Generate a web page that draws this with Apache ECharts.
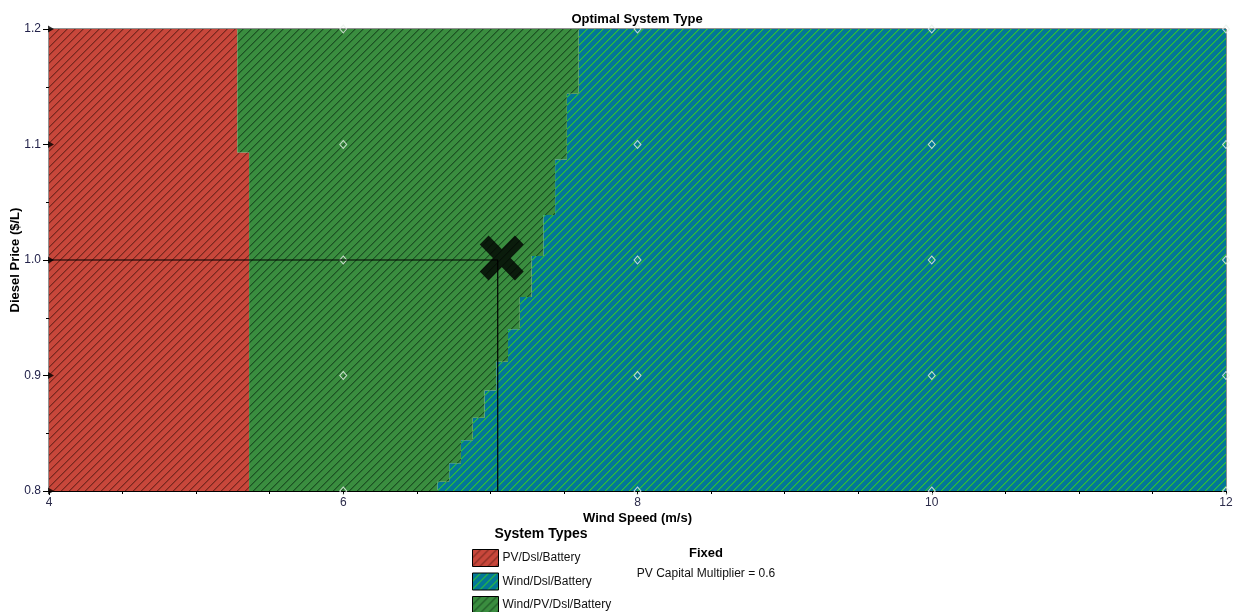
<!DOCTYPE html>
<html>
<head>
<meta charset="utf-8">
<script src="https://cdn.jsdelivr.net/npm/echarts@6/dist/echarts.min.js"></script>
<style>
  html, body { margin: 0; padding: 0; background: #fff; }
  #chart { width: 1243px; height: 612px; }
</style>
</head>
<body>
<div id="chart"></div>
<script>
// System type names (legend order)
const systemTypes = ['PV/Dsl/Battery', 'Wind/Dsl/Battery', 'Wind/PV/Dsl/Battery'];

// Boundary between PV/Dsl/Battery (left) and Wind/PV/Dsl/Battery: step edges
const pvBoundaryDiesel = [1.2, 1.093, 0.8];      // diesel price band edges ($/L)
const pvBoundaryWind = [5.28, 5.36];              // wind speed of the boundary in each band

// Boundary between Wind/PV/Dsl/Battery and Wind/Dsl/Battery (right): step edges
const windBoundaryDiesel = [1.2, 1.144, 1.087, 1.039, 1.0035, 0.968, 0.940, 0.912, 0.887, 0.8635, 0.844, 0.824, 0.808, 0.8];
const windBoundaryWind = [7.60, 7.52, 7.44, 7.36, 7.28, 7.20, 7.12, 7.04, 6.96, 6.88, 6.80, 6.72, 6.64];

// Sensitivity grid points
const sensWind = [4, 6, 8, 10, 12];
const sensDiesel = [0.8, 0.9, 1.0, 1.1, 1.2];

// Current operating point
const currentWind = 7.05;
const currentDiesel = 1.0;

// Axis extents
const windMin = 4, windMax = 12;
const dieselMin = 0.8, dieselMax = 1.2;

const FONT = "'Liberation Sans', Arial, sans-serif";

// Diagonal hatch pattern tile
function hatch(bg, line) {
  const s = 8;
  const c = document.createElement('canvas');
  c.width = s; c.height = s;
  const g = c.getContext('2d');
  g.fillStyle = bg;
  g.fillRect(0, 0, s, s);
  g.fillStyle = line;
  for (let i = 0; i < s; i++) {
    g.globalAlpha = 1;
    g.fillRect(i, s - 1 - i, 1, 1);
    g.globalAlpha = 0.5;
    g.fillRect((i + 1) % s, s - 1 - i, 1, 1);
  }
  g.globalAlpha = 1;
  return { image: c, repeat: 'repeat' };
}

const patterns = {
  'PV/Dsl/Battery': hatch('#c8473b', '#7a281f'),
  'Wind/Dsl/Battery': hatch('#037797', '#2ec235'),
  'Wind/PV/Dsl/Battery': hatch('#3a8d3f', '#1c5223')
};

// Staircase outline from top to bottom
function stair(xs, ys) {
  const pts = [];
  for (let i = 0; i < xs.length; i++) {
    pts.push([xs[i], ys[i]]);
    pts.push([xs[i], ys[i + 1]]);
  }
  return pts;
}

const pvEdge = stair(pvBoundaryWind, pvBoundaryDiesel);
const windEdge = stair(windBoundaryWind, windBoundaryDiesel);

const regions = {
  'PV/Dsl/Battery': [[windMin, dieselMax]].concat(pvEdge, [[windMin, dieselMin]]),
  'Wind/PV/Dsl/Battery': pvEdge.concat(windEdge.slice().reverse()),
  'Wind/Dsl/Battery': windEdge.concat([[windMax, dieselMin], [windMax, dieselMax]])
};

function regionSeries(name) {
  return {
    type: 'custom',
    name: name,
    coordinateSystem: 'cartesian2d',
    data: [[windMin, dieselMin]],
    itemStyle: { color: patterns[name], borderColor: '#000', borderWidth: 1 },
    clip: true,
    z: 1,
    silent: true,
    renderItem: function (params, api) {
      const pts = regions[name].map(p => api.coord(p));
      return {
        type: 'polygon',
        shape: { points: pts },
        style: { fill: patterns[name], stroke: null }
      };
    }
  };
}

const diamondPts = [];
const trianglePts = [];
sensWind.forEach(w => sensDiesel.forEach(d => {
  if (w === windMin) trianglePts.push([w, d]); else diamondPts.push([w, d]);
}));

const chart = echarts.init(document.getElementById('chart'), null, { renderer: 'canvas' });

chart.setOption({
  animation: false,
  backgroundColor: '#fff',
  textStyle: { fontFamily: FONT },
  grid: {
    left: 49, right: 17, top: 29, bottom: 121,
    containLabel: false, outerBoundsMode: 'none',
    show: true, borderColor: '#222', borderWidth: 1, backgroundColor: 'transparent'
  },
  xAxis: {
    type: 'value', min: windMin, max: windMax, interval: 2,
    name: 'Wind Speed (m/s)', nameLocation: 'middle', nameGap: 21, nameMoveOverlap: false,
    nameTextStyle: { fontFamily: FONT, fontWeight: 'bold', fontSize: 13, color: '#000' },
    axisLine: { show: true, lineStyle: { color: '#000', width: 1 } },
    axisTick: { show: true, length: 4, lineStyle: { color: '#000' } },
    minorTick: { show: true, splitNumber: 4, length: 3, lineStyle: { color: '#000' } },
    splitLine: { show: false },
    axisLabel: { margin: 6, fontFamily: FONT, fontSize: 12, color: '#2b2b4a' }
  },
  yAxis: {
    type: 'value', min: dieselMin, max: dieselMax, interval: 0.1,
    name: 'Diesel Price ($/L)', nameLocation: 'middle', nameGap: 27, nameMoveOverlap: false,
    nameTextStyle: { fontFamily: FONT, fontWeight: 'bold', fontSize: 13, color: '#000' },
    axisLine: { show: true, lineStyle: { color: '#000', width: 1 } },
    axisTick: { show: true, length: 6, lineStyle: { color: '#000' } },
    minorTick: { show: true, splitNumber: 2, length: 3, lineStyle: { color: '#000' } },
    splitLine: { show: false },
    axisLabel: {
      margin: 8, fontFamily: FONT, fontSize: 12, color: '#22224a',
      formatter: v => v.toFixed(1)
    }
  },
  legend: {
    orient: 'vertical', left: 472, top: 549, height: 120, padding: 0,
    itemWidth: 26, itemHeight: 17, itemGap: 5.5,
    icon: 'rect', selectedMode: false,
    textStyle: { fontFamily: FONT, fontSize: 12, color: '#111', padding: [0, 0, 0, -1] },
    data: systemTypes.map(n => ({
      name: n,
      itemStyle: { color: patterns[n], borderColor: '#000', borderWidth: 1 }
    }))
  },
  graphic: [
    { type: 'text', x: 637, y: 19, style: { text: 'Optimal System Type', font: "bold 13px " + FONT, fill: '#000', align: 'center', verticalAlign: 'middle' }, z: 10 },
    { type: 'text', x: 541, y: 534, style: { text: 'System Types', font: "bold 14px " + FONT, fill: '#000', align: 'center', verticalAlign: 'middle' }, z: 10 },
    { type: 'text', x: 706, y: 553, style: { text: 'Fixed', font: "bold 13px " + FONT, fill: '#000', align: 'center', verticalAlign: 'middle' }, z: 10 },
    { type: 'text', x: 706, y: 574, style: { text: 'PV Capital Multiplier = 0.6', font: "12px " + FONT, fill: '#111', align: 'center', verticalAlign: 'middle' }, z: 10 }
  ],
  series: [
    regionSeries('PV/Dsl/Battery'),
    regionSeries('Wind/Dsl/Battery'),
    regionSeries('Wind/PV/Dsl/Battery'),
    {
      type: 'scatter', name: 'points', data: diamondPts, silent: true, clip: false, z: 3,
      symbol: 'diamond', symbolSize: [7, 8],
      itemStyle: { color: 'rgba(0,0,0,0)', borderColor: '#e8f0ea', borderWidth: 1 }
    },
    {
      type: 'scatter', name: 'axisPoints', data: trianglePts, silent: true, clip: false, z: 3,
      symbol: 'triangle', symbolSize: [7, 6], symbolRotate: -90, symbolOffset: [2, 0],
      itemStyle: { color: '#000' }
    },
    {
      type: 'line', name: 'crosshair', silent: true, z: 4,
      data: [[windMin, currentDiesel], [currentWind, currentDiesel], [currentWind, dieselMin]],
      symbol: 'none', lineStyle: { color: '#000', width: 1.2 }
    },
    {
      type: 'scatter', name: 'current', silent: true, z: 5,
      data: [[currentWind, currentDiesel]],
      symbol: 'path://M0,2 L2,0 L5,3 L8,0 L10,2 L7,5 L10,8 L8,10 L5,7 L2,10 L0,8 L3,5 Z',
      symbolSize: [44, 45], symbolOffset: [4, -2],
      itemStyle: { color: '#000' }
    }
  ]
});
</script>
</body>
</html>
